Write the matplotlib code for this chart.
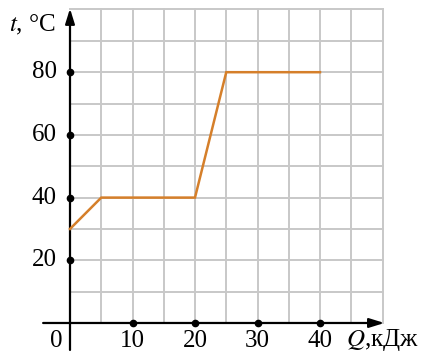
import matplotlib
matplotlib.use("Agg")
import matplotlib.pyplot as plt
import numpy as np

# Heating curve: temperature vs. heat supplied
heat_kj = [0, 5, 20, 25, 40]
temp_c = [30, 40, 40, 80, 80]

x_ticks = [10, 20, 30, 40]
y_ticks = [20, 40, 60, 80]

plt.rcParams['font.family'] = ['Liberation Serif', 'DejaVu Serif']
plt.rcParams['mathtext.fontset'] = 'stix'

FS = 18

fig = plt.figure(figsize=(4.21, 3.56), dpi=100)
ax = fig.add_axes([0, 0, 1, 1])
ax.set_xlim(-11.2, 56.16)
ax.set_ylim(-10.53, 103.03)
ax.axis('off')

# grid
grid_kw = dict(color='#c8c8c8', lw=1.4, zorder=1)
for gx in np.arange(5, 51, 5):
    ax.plot([gx, gx], [0, 100], **grid_kw)
for gy in np.arange(10, 101, 10):
    ax.plot([0, 50], [gy, gy], **grid_kw)

# axes with arrows
ax.annotate('', xy=(50.3, 0), xytext=(-4.3, 0),
            arrowprops=dict(arrowstyle='-|>,head_length=0.9,head_width=0.28',
                            color='black', lw=1.6, shrinkA=0, shrinkB=0), zorder=3)
ax.annotate('', xy=(0, 100.3), xytext=(0, -8.6),
            arrowprops=dict(arrowstyle='-|>,head_length=0.9,head_width=0.28',
                            color='black', lw=1.6, shrinkA=0, shrinkB=0), zorder=3)

# curve
ax.plot(heat_kj, temp_c, color='#d57f2a', lw=1.8, zorder=4, solid_joinstyle='miter')

# tick dots and labels
ax.plot(x_ticks, [0] * len(x_ticks), 'o', color='black', ms=4.5, zorder=5)
ax.plot([0] * len(y_ticks), y_ticks, 'o', color='black', ms=4.5, zorder=5)
for v in x_ticks:
    ax.text(v, -5.7, str(v), ha='center', va='center', fontsize=FS)
for v in y_ticks:
    ax.text(-2.1, v, str(v), ha='right', va='center', fontsize=FS)
ax.text(-2.2, -5.7, '0', ha='center', va='center', fontsize=FS)

ax.text(-2.3, 95.0, r'$t$, °C', ha='right', va='center', fontsize=FS)
ax.text(55.9, -5.4, r'$Q$,кДж', ha='right', va='center', fontsize=FS)

fig.savefig('out.png', dpi=100)
